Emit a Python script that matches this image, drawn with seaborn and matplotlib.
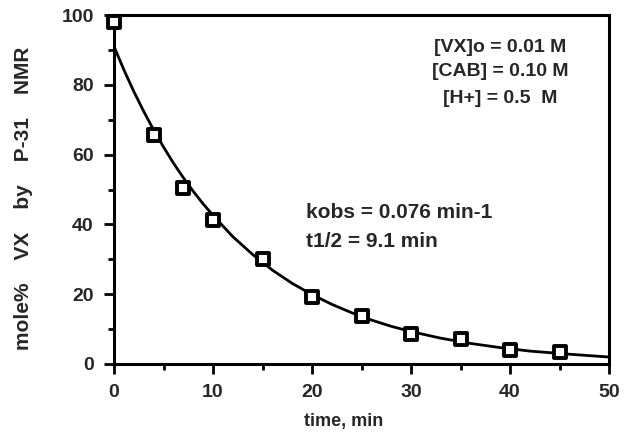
import numpy as np
import pandas as pd
import matplotlib
matplotlib.use("Agg")
import matplotlib.pyplot as plt
import seaborn as sns
from matplotlib.ticker import MultipleLocator

# measured points
time_pts = [0, 4, 7, 10, 15, 20, 25, 30, 35, 40, 45]
mole_pts = [98, 65.7, 50.4, 41.3, 30.1, 19.2, 13.8, 8.6, 7.2, 4.0, 3.4]

# fitted curve
time_fit = [0, 1, 2, 3, 4, 5, 6, 7, 8, 9, 10, 12, 14, 16, 18, 20, 22, 24,
            26, 28, 30, 33, 36, 39, 42, 46, 50]
mole_fit = [91.0, 84.3, 78.1, 72.4, 67.1, 62.2, 57.6, 53.4, 49.5, 45.9, 42.6,
            36.5, 31.4, 26.9, 23.1, 19.9, 17.1, 14.7, 12.6, 10.8, 9.3, 7.4,
            5.9, 4.7, 3.7, 2.8, 2.0]

x_ticks = [0, 10, 20, 30, 40, 50]
y_ticks = [0, 20, 40, 60, 80, 100]

sns.set_theme(style="ticks")
plt.rcParams['font.family'] = ['Liberation Sans', 'DejaVu Sans']
plt.rcParams['font.weight'] = 'bold'

fig = plt.figure(figsize=(6.25, 4.34), dpi=100)
ax = fig.add_axes([0.1824, 0.1613, 0.792, 0.804])

pts = pd.DataFrame({"t": time_pts, "m": mole_pts})
fit = pd.DataFrame({"t": time_fit, "m": mole_fit})

sns.lineplot(data=fit, x="t", y="m", ax=ax, color="black", linewidth=2.0,
             zorder=2)
sns.scatterplot(data=pts, x="t", y="m", ax=ax, marker="s", s=70,
                facecolor="white", edgecolor="black", linewidth=2.8, zorder=3,
                clip_on=False)

ax.set_xlim(0, 50)
ax.set_ylim(0, 100)
ax.set_xticks(x_ticks)
ax.set_yticks(y_ticks)
ax.xaxis.set_minor_locator(MultipleLocator(5))
ax.yaxis.set_minor_locator(MultipleLocator(10))
ax.tick_params(axis="both", which="major", direction="out", length=7.5,
               width=2, labelsize=14, color="black", pad=7)
ax.tick_params(axis="both", which="minor", direction="out", length=4,
               width=2, color="black")
for lab in ax.get_xticklabels() + ax.get_yticklabels():
    lab.set_fontweight("bold")

for sp in ax.spines.values():
    sp.set_linewidth(2.2)
    sp.set_color("black")

ax.set_xlabel("time, min", fontsize=13, fontweight="bold")
ax.xaxis.set_label_coords(0.463, -0.14)
ax.set_ylabel("mole%    VX    by    P-31    NMR", fontsize=15,
              fontweight="bold")
ax.yaxis.set_label_coords(-0.164, 0.476)

cond_lines = ["[VX]o = 0.01 M", "[CAB] = 0.10 M", "[H+] = 0.5  M"]
cond_y = [0.908, 0.837, 0.762]
for s, yy in zip(cond_lines, cond_y):
    ax.text(0.78, yy, s, transform=ax.transAxes, ha="center", va="center",
            fontsize=14, fontweight="bold")

ax.text(0.388, 0.433, "kobs = 0.076 min-1", transform=ax.transAxes,
        ha="left", va="center", fontsize=15, fontweight="bold")
ax.text(0.388, 0.352, "t1/2 = 9.1 min", transform=ax.transAxes,
        ha="left", va="center", fontsize=15, fontweight="bold")

fig.savefig("out.png", dpi=100, facecolor="white")
